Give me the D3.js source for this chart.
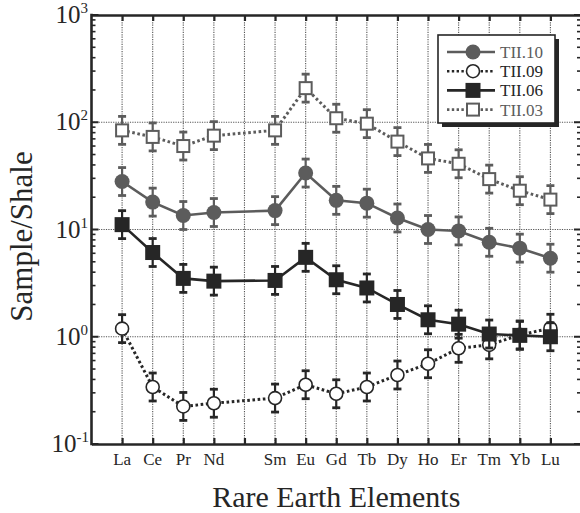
<!DOCTYPE html>
<html>
<head>
<meta charset="utf-8">
<script src="https://cdn.jsdelivr.net/npm/d3@7"></script>
<style>
  body { margin: 0; background: #fff; }
</style>
</head>
<body>
<div class="chart"></div>
<script>
var svgWidth = 580;
var svgHeight = 513;

// data
var elements = ["La", "Ce", "Pr", "Nd", "Sm", "Eu", "Gd", "Tb", "Dy", "Ho", "Er", "Tm", "Yb", "Lu"];
var atomicNumbers = [57, 58, 59, 60, 62, 63, 64, 65, 66, 67, 68, 69, 70, 71];
var tii10 = [28, 18, 13.5, 14.4, 15, 33.6, 18.7, 17.6, 12.8, 10, 9.7, 7.6, 6.7, 5.4];
var tii09 = [1.19, 0.34, 0.224, 0.24, 0.268, 0.357, 0.294, 0.34, 0.44, 0.56, 0.78, 0.84, 1.04, 1.2];
var tii06 = [11.1, 6.1, 3.5, 3.3, 3.35, 5.5, 3.4, 2.85, 2.0, 1.44, 1.31, 1.06, 1.03, 1.0];
var tii03 = [84, 73, 60, 75, 84, 208, 109, 97, 66, 46, 41, 29.5, 23, 19];
var errorFactor = 1.35;
var yTickExps = [-1, 0, 1, 2, 3];

var fontFam = "'Liberation Serif', 'Times New Roman', Times, serif";

var margin = { top: 15, right: 0, bottom: 69, left: 91.5 };
var plotRight = 581;
var height = svgHeight - margin.top - margin.bottom;

var svg = d3.select(".chart")
  .append("svg")
  .attr("width", svgWidth)
  .attr("height", svgHeight)
  .style("font-family", fontFam);

var x = d3.scaleLinear()
  .domain([56, 72])
  .range([margin.left, plotRight]);

var y = d3.scaleLog()
  .domain([0.1, 1000])
  .range([margin.top + height, margin.top]);

var dark = "#262626";
var gray = "#5c5c5c";

// grid
var gridTicks = d3.range(57, 72);
svg.append("g").selectAll("line")
  .data(gridTicks)
  .enter().append("line")
  .attr("x1", d => x(d)).attr("x2", d => x(d))
  .attr("y1", y(1000)).attr("y2", y(0.1))
  .attr("stroke", "#555").attr("stroke-width", 1.1)
  .attr("stroke-dasharray", "1.2,1.2");

svg.append("g").selectAll("line")
  .data([1, 10, 100])
  .enter().append("line")
  .attr("x1", x(56)).attr("x2", x(72))
  .attr("y1", d => y(d)).attr("y2", d => y(d))
  .attr("stroke", "#555").attr("stroke-width", 1.1)
  .attr("stroke-dasharray", "1.2,1.2");

// axes (ticks inside)
var minorVals = [];
yTickExps.slice(0, -1).forEach(function(e) {
  for (var m = 2; m <= 9; m++) minorVals.push(m * Math.pow(10, e));
});
var majorVals = yTickExps.map(e => Math.pow(10, e));

function yTicks(xPos, dir) {
  var g = svg.append("g");
  g.selectAll(".minor").data(minorVals).enter().append("line")
    .attr("x1", xPos).attr("x2", xPos + dir * 4)
    .attr("y1", d => y(d)).attr("y2", d => y(d))
    .attr("stroke", dark).attr("stroke-width", 1.6);
  g.selectAll(".major").data(majorVals).enter().append("line")
    .attr("x1", xPos).attr("x2", xPos + dir * 7)
    .attr("y1", d => y(d)).attr("y2", d => y(d))
    .attr("stroke", dark).attr("stroke-width", 2);
}
yTicks(x(56), 1);
yTicks(x(72), -1);

var bottomAxis = d3.axisBottom(x).tickValues(gridTicks).tickSizeInner(-6).tickSizeOuter(0).tickFormat("");
var topAxis = d3.axisTop(x).tickValues(gridTicks).tickSizeInner(-6).tickSizeOuter(0).tickFormat("");

svg.append("g")
  .attr("transform", `translate(0, ${y(0.1)})`)
  .call(bottomAxis)
  .call(g => g.selectAll("line").attr("stroke", dark).attr("stroke-width", 2.2))
  .call(g => g.select(".domain").attr("stroke", dark).attr("stroke-width", 2.6));

svg.append("g")
  .attr("transform", `translate(0, ${y(1000)})`)
  .call(topAxis)
  .call(g => g.selectAll("line").attr("stroke", dark).attr("stroke-width", 2.2))
  .call(g => g.select(".domain").attr("stroke", dark).attr("stroke-width", 2.6));

svg.append("line")
  .attr("x1", x(56)).attr("x2", x(56))
  .attr("y1", y(1000) - 1.3).attr("y2", y(0.1) + 1.3)
  .attr("stroke", dark).attr("stroke-width", 2.6);

// x labels
svg.append("g").selectAll("text")
  .data(elements)
  .enter().append("text")
  .attr("x", (d, i) => x(atomicNumbers[i]))
  .attr("y", y(0.1) + 21)
  .attr("text-anchor", "middle")
  .attr("fill", dark)
  .style("font-family", fontFam)
  .style("font-size", "17px")
  .text(d => d);

// y labels 10^n
var yLab = svg.append("g").selectAll("text")
  .data(yTickExps)
  .enter().append("text")
  .attr("y", d => y(Math.pow(10, d)) + 8)
  .attr("text-anchor", "end")
  .attr("fill", dark)
  .style("font-family", fontFam)
  .style("font-size", "25px");
yLab.append("tspan").text("10");
yLab.append("tspan")
  .attr("dy", -10)
  .style("font-size", "15px")
  .text(d => d);
yLab.attr("x", d => d < 0 ? 89 : 88);

// axis titles
svg.append("text")
  .attr("transform", `translate(32, ${(y(1000) + y(0.1)) / 2 + 7}) rotate(-90)`)
  .attr("text-anchor", "middle")
  .attr("fill", dark)
  .style("font-family", fontFam)
  .style("font-size", "31px")
  .text("Sample/Shale");

svg.append("text")
  .attr("x", (x(56) + x(72)) / 2)
  .attr("y", 507)
  .attr("text-anchor", "middle")
  .attr("fill", dark)
  .style("font-family", fontFam)
  .style("font-size", "30px")
  .text("Rare Earth Elements");

// series
var series = [
  { name: "TII.03", values: tii03, color: gray, dotted: true, shape: "square", fill: "#fff" },
  { name: "TII.09", values: tii09, color: dark, dotted: true, shape: "circle", fill: "#fff" },
  { name: "TII.06", values: tii06, color: dark, dotted: false, shape: "square", fill: dark },
  { name: "TII.10", values: tii10, color: gray, dotted: false, shape: "circle", fill: gray }
];

var line = d3.line()
  .x(d => x(d.n))
  .y(d => y(d.v));

function marker(g, s, cx, cy) {
  if (s.shape === "circle") {
    g.append("circle")
      .attr("cx", cx).attr("cy", cy)
      .attr("r", s.fill === "#fff" ? 6.5 : 7.5)
      .attr("fill", s.fill)
      .attr("stroke", s.color).attr("stroke-width", s.fill === "#fff" ? 1.6 : 0);
  } else {
    var h = s.fill === "#fff" ? 6 : 7.5;
    g.append("rect")
      .attr("x", cx - h).attr("y", cy - h)
      .attr("width", 2 * h).attr("height", 2 * h)
      .attr("fill", s.fill)
      .attr("stroke", s.color).attr("stroke-width", s.fill === "#fff" ? 2 : 0);
  }
}

series.forEach(function(s) {
  var pts = s.values.map((v, i) => ({ n: atomicNumbers[i], v: v }));
  var g = svg.append("g");

  g.append("path")
    .datum(pts)
    .attr("d", line)
    .attr("fill", "none")
    .attr("stroke", s.color)
    .attr("stroke-width", s.dotted ? 3 : 2.6)
    .attr("stroke-dasharray", s.dotted ? "2.6,2.6" : null);

  pts.forEach(function(p) {
    var px = x(p.n);
    var top = y(p.v * errorFactor), bot = y(p.v / errorFactor);
    g.append("line")
      .attr("x1", px).attr("x2", px).attr("y1", top).attr("y2", bot)
      .attr("stroke", s.color).attr("stroke-width", 2.2);
    [top, bot].forEach(function(cy) {
      g.append("line")
        .attr("x1", px - 4).attr("x2", px + 4).attr("y1", cy).attr("y2", cy)
        .attr("stroke", s.color).attr("stroke-width", 2.8);
    });
  });
  pts.forEach(p => marker(g, s, x(p.n), y(p.v)));
});

// legend
var legend = svg.append("g").attr("transform", "translate(438, 35)");
legend.append("rect")
  .attr("x", 4).attr("y", 4).attr("width", 117).attr("height", 88)
  .attr("fill", dark);
legend.append("rect")
  .attr("x", 0).attr("y", 0).attr("width", 117).attr("height", 88)
  .attr("fill", "#fff").attr("stroke", dark).attr("stroke-width", 1.6);

var legendOrder = [series[3], series[1], series[2], series[0]];
legendOrder.forEach(function(s, i) {
  var ly = 17 + i * 19.2;
  var row = legend.append("g");
  row.append("line")
    .attr("x1", 9).attr("x2", 57).attr("y1", ly).attr("y2", ly)
    .attr("stroke", s.color)
    .attr("stroke-width", 2.6)
    .attr("stroke-dasharray", s.dotted ? "2.4,2.4" : null);
  marker(row, s, 35, ly);
  row.append("text")
    .attr("x", 62).attr("y", ly + 6)
    .attr("fill", s.color)
    .style("font-family", fontFam)
    .style("font-size", "17px")
    .text(s.name);
});
</script>
</body>
</html>
